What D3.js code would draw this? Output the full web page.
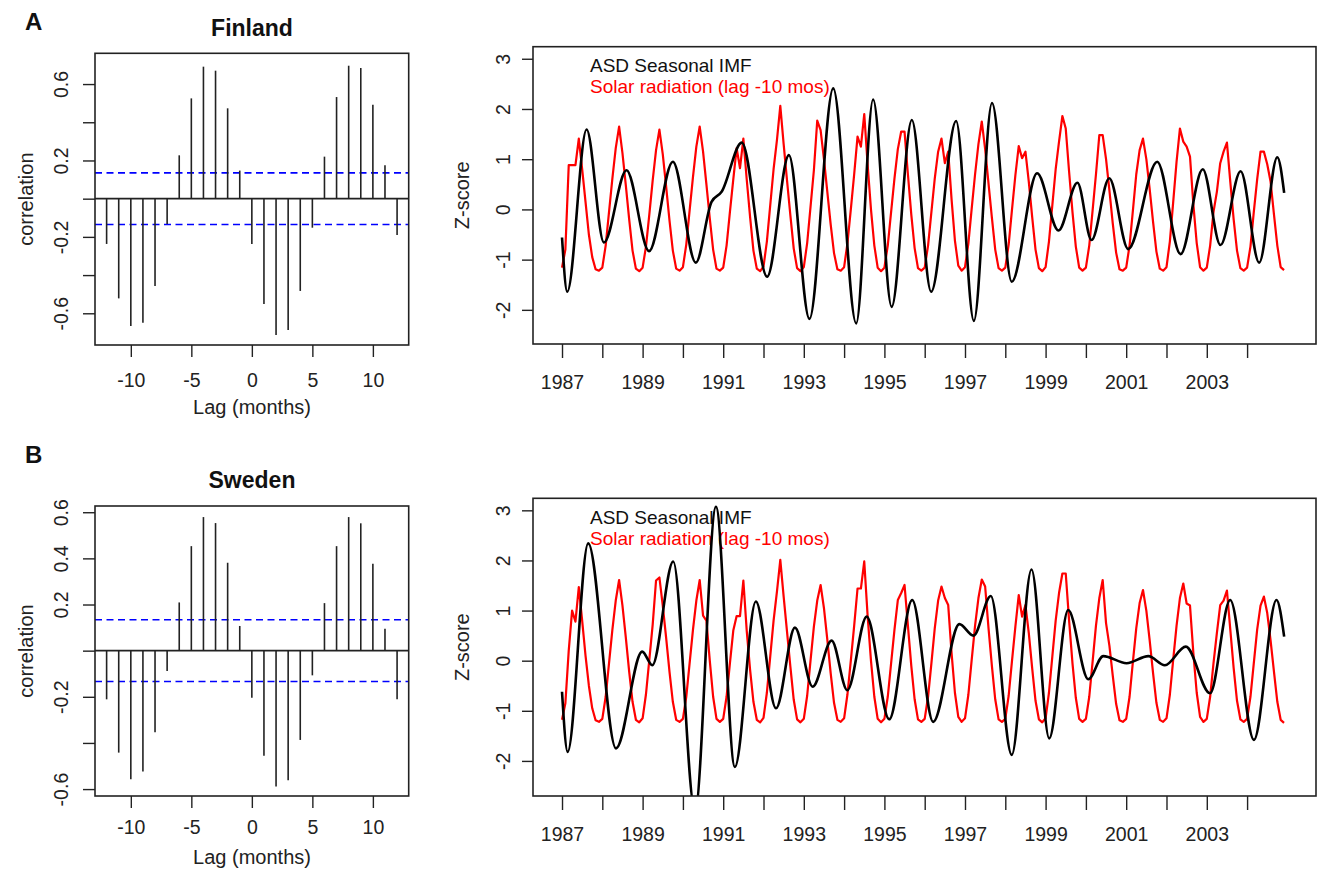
<!DOCTYPE html>
<html lang="en">
<head>
<meta charset="UTF-8">
<title>ASD seasonal IMF and solar radiation</title>
<script src="https://d3js.org/d3.v7.min.js"></script>
<style>
  body { margin: 0; background: #fff; }
  svg text { font-family: "Liberation Sans", Arial, sans-serif; }
</style>
</head>
<body>
<svg id="chart" width="1318" height="873"></svg>
<script>
// ---- cross-correlation (left panels) ----
const lags = [-12, -11, -10, -9, -8, -7, -6, -5, -4, -3, -2, -1, 0, 1, 2, 3, 4, 5, 6, 7, 8, 9, 10, 11, 12];
const ccfFinland = [-0.237, -0.522, -0.667, -0.649, -0.457, -0.133, 0.227, 0.525, 0.691, 0.670, 0.473, 0.147,
                    -0.237, -0.551, -0.714, -0.688, -0.483, -0.152, 0.220, 0.532, 0.696, 0.684, 0.492, 0.175, -0.190];
const ccfSweden = [-0.211, -0.442, -0.557, -0.524, -0.354, -0.088, 0.209, 0.453, 0.579, 0.553, 0.381, 0.107,
                   -0.204, -0.456, -0.589, -0.562, -0.387, -0.107, 0.206, 0.453, 0.579, 0.552, 0.377, 0.095, -0.211];
const ciFinland = 0.135;
const ciSweden = 0.134;
const ccfTicks = [-0.6, -0.4, -0.2, 0, 0.2, 0.4, 0.6];
const ccfLabelsFinland = [-0.6, -0.2, 0.2, 0.6];
const ccfLabelsSweden = [-0.6, -0.2, 0.2, 0.4, 0.6];
const lagTicks = [-10, -5, 0, 5, 10];

// ---- time series (right panels) ----
const years = [1987, 1988, 1989, 1990, 1991, 1992, 1993, 1994, 1995, 1996, 1997, 1998, 1999, 2000, 2001, 2002, 2003, 2004];
const yearLabels = [1987, 1989, 1991, 1993, 1995, 1997, 1999, 2001, 2003];
const zTicks = [-2, -1, 0, 1, 2, 3];

// solar radiation z-score, one row per year, Jan..Dec
const solarFinland = [
  [-1.16, -0.80, 0.88, 0.88, 0.88, 1.41, 0.80, 0.15, -0.50, -0.95, -1.19, -1.22],
  [-1.16, -0.72, -0.05, 0.62, 1.22, 1.65, 1.12, 0.48, -0.20, -0.82, -1.18, -1.23],
  [-1.16, -0.74, -0.10, 0.58, 1.18, 1.59, 1.10, 0.46, -0.22, -0.82, -1.18, -1.22],
  [-1.15, -0.70, -0.02, 0.65, 1.25, 1.65, 1.15, 0.50, -0.18, -0.80, -1.18, -1.22],
  [-1.16, -0.72, -0.05, 0.60, 1.22, 0.82, 1.41, 0.60, -0.15, -0.82, -1.18, -1.23],
  [-1.14, -0.64, 0.08, 0.80, 1.38, 2.06, 1.30, 0.58, -0.12, -0.78, -1.17, -1.23],
  [-1.15, -0.67, 0.05, 0.78, 1.77, 1.58, 1.00, 0.35, -0.30, -0.87, -1.19, -1.22],
  [-1.15, -0.67, 0.00, 0.70, 1.45, 1.25, 1.90, 0.90, 0.00, -0.72, -1.16, -1.23],
  [-1.16, -0.72, -0.05, 0.62, 1.20, 1.55, 1.55, 0.70, -0.10, -0.77, -1.17, -1.22],
  [-1.16, -0.72, -0.05, 0.62, 1.15, 1.41, 0.92, 1.15, 0.20, -0.62, -1.12, -1.22],
  [-1.15, -0.68, 0.02, 0.70, 1.30, 1.75, 1.20, 0.52, -0.16, -0.80, -1.17, -1.22],
  [-1.16, -0.70, 0.00, 0.68, 1.26, 1.02, 1.15, 0.55, -0.15, -0.80, -1.17, -1.23],
  [-1.15, -0.64, 0.08, 0.80, 1.35, 1.86, 1.61, 0.75, -0.05, -0.74, -1.16, -1.22],
  [-1.16, -0.72, -0.02, 0.70, 1.48, 1.48, 1.00, 0.38, -0.28, -0.86, -1.19, -1.22],
  [-1.16, -0.72, -0.02, 0.70, 1.18, 1.41, 1.00, 0.40, -0.25, -0.84, -1.18, -1.22],
  [-1.15, -0.64, 0.15, 0.95, 1.61, 1.35, 1.25, 1.05, 0.10, -0.67, -1.15, -1.22],
  [-1.16, -0.72, -0.05, 0.35, 0.92, 1.15, 1.33, 0.55, -0.20, -0.82, -1.17, -1.22],
  [-1.16, -0.74, -0.05, 0.60, 1.15, 1.15, 0.90, 0.55, -0.10, -0.72, -1.15, -1.21]
];
const solarSweden = [
  [-1.18, -0.85, 0.20, 1.00, 0.78, 1.47, 0.80, 0.10, -0.50, -0.95, -1.19, -1.22],
  [-1.16, -0.72, -0.05, 0.62, 1.20, 1.61, 1.10, 0.46, -0.22, -0.82, -1.18, -1.23],
  [-1.15, -0.67, 0.02, 0.72, 1.60, 1.66, 1.10, 0.46, -0.22, -0.82, -1.18, -1.22],
  [-1.16, -0.72, -0.05, 0.62, 1.20, 1.61, 0.90, 0.80, 0.00, -0.72, -1.16, -1.22],
  [-1.16, -0.72, -0.05, 0.60, 0.89, 0.89, 1.60, 0.60, -0.18, -0.82, -1.18, -1.23],
  [-1.14, -0.64, 0.08, 0.80, 1.38, 2.01, 1.28, 0.58, -0.12, -0.78, -1.17, -1.23],
  [-1.16, -0.70, 0.00, 0.68, 1.20, 1.51, 1.05, 0.42, -0.25, -0.84, -1.18, -1.22],
  [-1.15, -0.67, 0.00, 0.70, 1.44, 1.44, 1.98, 0.90, 0.00, -0.72, -1.16, -1.23],
  [-1.16, -0.72, -0.05, 0.62, 1.21, 1.35, 1.51, 0.70, -0.10, -0.77, -1.17, -1.22],
  [-1.16, -0.72, -0.05, 0.65, 1.20, 1.48, 1.25, 1.11, 0.15, -0.64, -1.12, -1.22],
  [-1.15, -0.68, 0.02, 0.70, 1.25, 1.62, 1.48, 0.65, -0.10, -0.77, -1.17, -1.22],
  [-1.16, -0.70, 0.00, 0.68, 1.31, 0.88, 1.11, 0.55, -0.15, -0.80, -1.17, -1.23],
  [-1.15, -0.64, 0.08, 0.80, 1.35, 1.74, 1.74, 0.80, -0.05, -0.74, -1.16, -1.22],
  [-1.16, -0.72, -0.02, 0.70, 1.25, 1.61, 0.75, 0.30, -0.30, -0.86, -1.19, -1.22],
  [-1.16, -0.72, -0.02, 0.65, 1.15, 1.41, 1.00, 0.40, -0.25, -0.84, -1.18, -1.22],
  [-1.15, -0.68, 0.02, 0.70, 1.25, 1.54, 1.14, 1.10, 0.15, -0.64, -1.12, -1.22],
  [-1.16, -0.72, -0.05, 0.55, 1.11, 1.20, 1.40, 0.62, -0.15, -0.80, -1.17, -1.22],
  [-1.16, -0.72, -0.05, 0.62, 1.10, 1.28, 0.95, 0.40, -0.22, -0.82, -1.18, -1.24]
];

// ASD seasonal IMF: turning points [decimal year, z-score]
const imfFinland = [
  [1987.00, -0.56], [1987.13, -1.64], [1987.61, 1.59], [1988.04, -0.66], [1988.60, 0.78],
  [1989.16, -0.83], [1989.75, 0.95], [1990.32, -1.06], [1990.71, 0.15], [1990.96, 0.35],
  [1991.46, 1.33], [1992.09, -1.34], [1992.63, 1.08], [1993.14, -2.18], [1993.73, 2.41],
  [1994.30, -2.27], [1994.72, 2.19], [1995.18, -1.94], [1995.68, 1.78], [1996.16, -1.64],
  [1996.78, 1.76], [1997.22, -2.22], [1997.67, 2.12], [1998.16, -1.44], [1998.79, 0.72],
  [1999.32, -0.42], [1999.79, 0.53], [2000.14, -0.61], [2000.58, 0.62], [2001.05, -0.79],
  [2001.77, 0.95], [2002.35, -0.89], [2002.90, 0.80], [2003.34, -0.71], [2003.84, 0.76],
  [2004.30, -1.06], [2004.75, 1.04], [2004.92, 0.33]
];
const imfSweden = [
  [1987.00, -0.62], [1987.14, -1.82], [1987.65, 2.34], [1988.34, -1.75], [1988.99, 0.18],
  [1989.24, -0.09], [1989.76, 1.98], [1990.30, -3.00], [1990.82, 3.07], [1991.29, -2.12],
  [1991.81, 1.18], [1992.31, -0.95], [1992.78, 0.66], [1993.22, -0.52], [1993.69, 0.40],
  [1994.08, -0.59], [1994.56, 0.88], [1995.12, -1.17], [1995.69, 1.21], [1996.21, -1.22],
  [1996.86, 0.73], [1997.21, 0.50], [1997.64, 1.29], [1998.16, -1.88], [1998.65, 1.82],
  [1999.09, -1.55], [1999.56, 1.01], [2000.06, -0.37], [2000.43, 0.09], [2001.01, -0.05],
  [2001.55, 0.09], [2001.96, -0.09], [2002.48, 0.28], [2003.08, -0.65], [2003.58, 1.21],
  [2004.17, -1.58], [2004.73, 1.21], [2004.92, 0.48]
];

const svg = d3.select("#chart");
const ink = "#222";

function frame(g, x0, y0, x1, y1) {
  g.append("rect")
    .attr("x", x0).attr("y", y0)
    .attr("width", x1 - x0).attr("height", y1 - y0)
    .attr("fill", "none").attr("stroke", ink).attr("stroke-width", 1.6);
}

// y axis with labels turned parallel to the axis, like R
function yAxis(g, y, x0, ticks, labels, size, off) {
  const ax = g.append("g")
    .attr("transform", `translate(${x0},0)`)
    .call(d3.axisLeft(y).tickValues(ticks).tickSize(size).tickSizeOuter(0)
      .tickFormat(d => labels.includes(d) ? String(d) : ""));
  ax.select(".domain").remove();
  ax.selectAll(".tick line").attr("stroke", ink).attr("stroke-width", 1.4);
  ax.selectAll(".tick text")
    .attr("transform", "rotate(-90)")
    .attr("x", 0).attr("y", -off).attr("dy", null)
    .attr("text-anchor", "middle")
    .attr("font-size", 19.5)
    .attr("font-family", '"Liberation Sans", Arial, sans-serif')
    .attr("fill", ink);
}

function xAxis(g, x, y0, ticks, labels, size, pad) {
  const ax = g.append("g")
    .attr("transform", `translate(0,${y0})`)
    .call(d3.axisBottom(x).tickValues(ticks).tickSize(size).tickPadding(pad).tickSizeOuter(0)
      .tickFormat(d => labels.includes(d) ? String(d) : ""));
  ax.select(".domain").remove();
  ax.selectAll(".tick line").attr("stroke", ink).attr("stroke-width", 1.4);
  ax.selectAll(".tick text")
    .attr("font-size", 19.5)
    .attr("font-family", '"Liberation Sans", Arial, sans-serif')
    .attr("fill", ink);
}

function ccfPanel(cfg) {
  const g = svg.append("g");
  const x = d3.scaleLinear().domain([-12.96, 12.96]).range([95, 408.7]);
  const y = d3.scaleLinear().domain(cfg.yDomain).range([cfg.y1, cfg.y0]);

  // significance bounds
  [cfg.ci, -cfg.ci].forEach(c => {
    g.append("line")
      .attr("x1", x.range()[0]).attr("x2", x.range()[1])
      .attr("y1", y(c)).attr("y2", y(c))
      .attr("stroke", "#0000ff").attr("stroke-width", 1.6)
      .attr("stroke-dasharray", "7,4.5");
  });

  g.append("line")
    .attr("x1", x.range()[0]).attr("x2", x.range()[1])
    .attr("y1", y(0)).attr("y2", y(0))
    .attr("stroke", ink).attr("stroke-width", 1.6);

  g.selectAll(".spike")
    .data(lags.map((l, i) => ({ lag: l, r: cfg.values[i] })))
    .enter().append("line")
    .attr("class", "spike")
    .attr("x1", d => x(d.lag)).attr("x2", d => x(d.lag))
    .attr("y1", y(0)).attr("y2", d => y(d.r))
    .attr("stroke", ink).attr("stroke-width", 1.6);

  frame(g, 95, cfg.y0, 408.7, cfg.y1);
  yAxis(g, y, 95, ccfTicks, cfg.labels, 12, 27);
  xAxis(g, x, cfg.y1, lagTicks, lagTicks, 12, cfg.pad);

  g.append("text")
    .attr("x", 252).attr("y", cfg.titleY)
    .attr("text-anchor", "middle")
    .attr("font-size", 23).attr("font-weight", "bold")
    .attr("fill", "#111")
    .text(cfg.title);

  g.append("text")
    .attr("x", 25).attr("y", cfg.letterY)
    .attr("font-size", 24).attr("font-weight", "bold")
    .attr("fill", "#111")
    .text(cfg.letter);

  g.append("text")
    .attr("x", 252).attr("y", cfg.xTitleY)
    .attr("text-anchor", "middle")
    .attr("font-size", 20).attr("fill", ink)
    .text("Lag (months)");

  g.append("text")
    .attr("transform", `translate(33,${(cfg.y0 + cfg.y1) / 2}) rotate(-90)`)
    .attr("text-anchor", "middle")
    .attr("font-size", 20).attr("fill", ink)
    .text("correlation");
}

function timePanel(cfg) {
  const g = svg.append("g");
  const x = d3.scaleLinear().domain([1986.28, 2005.71]).range([533, 1316]);
  const y = d3.scaleLinear().domain(cfg.yDomain).range([cfg.y1, cfg.y0]);

  const clipId = "clip-" + cfg.id;
  g.append("clipPath").attr("id", clipId)
    .append("rect")
    .attr("x", 533).attr("y", cfg.y0)
    .attr("width", 1316 - 533).attr("height", cfg.y1 - cfg.y0);

  // legend, two tight lines as in the original
  g.append("text")
    .attr("x", 590).attr("y", cfg.legendY)
    .attr("font-size", 19).attr("fill", "#111")
    .text("ASD Seasonal IMF");
  g.append("text")
    .attr("x", 590).attr("y", cfg.legendY + 21)
    .attr("font-size", 19).attr("fill", "#ff0000")
    .text("Solar radiation (lag -10 mos)");

  const solarPts = cfg.solar.flatMap((row, i) => row.map((v, m) => [years[i] + m / 12, v]));

  const lineLinear = d3.line().x(d => x(d[0])).y(d => y(d[1]));
  const lineSmooth = d3.line().x(d => x(d[0])).y(d => y(d[1])).curve(d3.curveMonotoneX);

  const plot = g.append("g").attr("clip-path", `url(#${clipId})`);
  plot.append("path")
    .datum(solarPts)
    .attr("d", lineLinear)
    .attr("fill", "none").attr("stroke", "#ff0000")
    .attr("stroke-width", 2.2).attr("stroke-linejoin", "round");
  plot.append("path")
    .datum(cfg.imf)
    .attr("d", lineSmooth)
    .attr("fill", "none").attr("stroke", "#000")
    .attr("stroke-width", 2.6).attr("stroke-linejoin", "round");

  frame(g, 533, cfg.y0, 1316, cfg.y1);
  yAxis(g, y, 533, zTicks, zTicks, 11, 23);
  xAxis(g, x, cfg.y1, years, yearLabels, 14, 17);

  g.append("text")
    .attr("transform", `translate(469,${(cfg.y0 + cfg.y1) / 2}) rotate(-90)`)
    .attr("text-anchor", "middle")
    .attr("font-size", 20).attr("fill", ink)
    .text("Z-score");
}

ccfPanel({ values: ccfFinland, ci: ciFinland, labels: ccfLabelsFinland,
  yDomain: [-0.766, 0.761], y0: 53.3, y1: 345, pad: 16,
  title: "Finland", titleY: 36, letter: "A", letterY: 30, xTitleY: 414 });
ccfPanel({ values: ccfSweden, ci: ciSweden, labels: ccfLabelsSweden,
  yDomain: [-0.630, 0.627], y0: 506, y1: 796, pad: 12,
  title: "Sweden", titleY: 488, letter: "B", letterY: 463, xTitleY: 864 });

timePanel({ id: "fin", solar: solarFinland, imf: imfFinland,
  yDomain: [-2.68, 3.24], y0: 46.7, y1: 344, legendY: 72 });
timePanel({ id: "swe", solar: solarSweden, imf: imfSweden,
  yDomain: [-2.70, 3.24], y0: 498.3, y1: 796, legendY: 524 });
</script>
</body>
</html>
